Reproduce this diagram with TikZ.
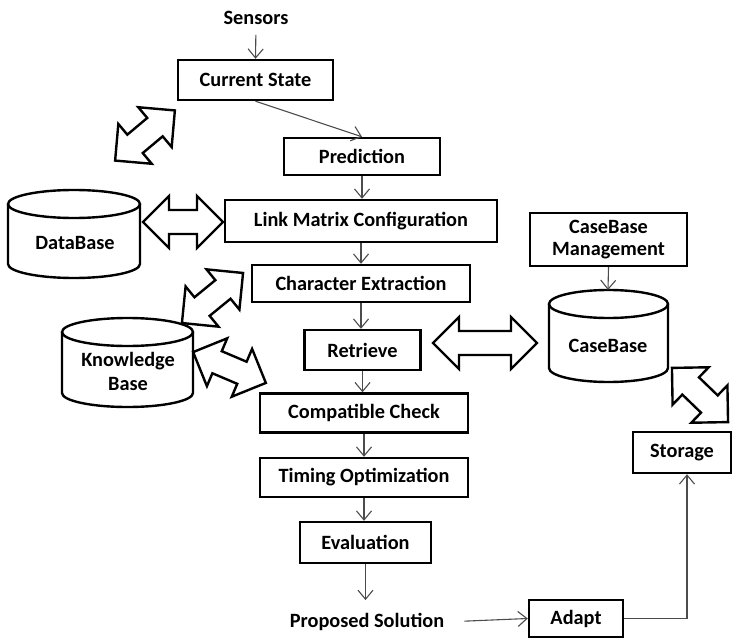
\documentclass[tikz,border=0pt]{standalone}
\usepackage{fontspec}
\setmainfont{Carlito}
\usetikzlibrary{arrows.meta}

\tikzset{
  stepbox/.style={draw=black, line width=2.4pt, fill=white, inner sep=0pt,
    align=center, font=\bfseries\fontsize{20.3}{22}\selectfont},
  label/.style={inner sep=0pt, align=center, font=\bfseries\fontsize{20.3}{24}\selectfont},
  flow/.style={draw=black!70, line width=1.1pt,
    -{Straight Barb[length=9pt, width=15pt, line width=1.1pt]}},
  blockline/.style={draw=black, line width=2.4pt, line join=miter, fill=white},
  cylline/.style={draw=black, line width=2.4pt},
  % double-headed block arrow, #1 = half of its length
  pics/dblarrow/.style={code={
    \path[blockline] (-#1,0) -- (-#1+26,26) -- (-#1+26,12) -- (#1-26,12)
      -- (#1-26,26) -- (#1,0) -- (#1-26,-26) -- (#1-26,-12)
      -- (-#1+26,-12) -- (-#1+26,-26) -- cycle;}},
}

% cylinder outline: centre x, top y, bottom y, x radius, y radius
\newcommand{\drumshape}[5]{%
  \path[cylline] (#1-#4,#2+#5) -- (#1-#4,#3-#5)
    arc[start angle=180, end angle=0, x radius=#4, y radius=#5]
    -- (#1+#4,#2+#5);
  \path[cylline] (#1,#2+#5) ellipse[x radius=#4, y radius=#5];
}

\begin{document}
\begin{tikzpicture}[x=1pt, y=-1pt]
\useasboundingbox (0,0) rectangle (733,639);

% storage drums
\drumshape{74}{190}{278}{66}{14}
\drumshape{127.5}{318}{407}{65.5}{14}
\drumshape{608.5}{290}{382}{59.5}{14}
\node[label] (db) at (75,243) {DataBase};
\node[label] (kb) at (128,371) {Knowledge\\Base};
\node[label] (cb) at (608,346) {CaseBase};

% processing chain
\node[label] (sens) at (256,18) {Sensors};
\node[stepbox, minimum width=155, minimum height=40] (cs)   at (255.5,80)  {Current State};
\node[stepbox, minimum width=156, minimum height=37] (pred) at (362,156.5) {Prediction};
\node[stepbox, minimum width=272, minimum height=42] (lmc)  at (361,221)   {Link Matrix Configuration};
\node[stepbox, minimum width=218, minimum height=37] (ce)   at (361,283.5) {Character Extraction};
\node[stepbox, minimum width=116, minimum height=40] (ret)  at (362.5,350) {Retrieve};
\node[stepbox, minimum width=208, minimum height=39] (cc)   at (364,413)   {Compatible Check};
\node[stepbox, minimum width=208, minimum height=39] (to)   at (364,477.5) {Timing Optimization};
\node[stepbox, minimum width=131, minimum height=41] (ev)   at (365.5,542.5) {Evaluation};
\node[label] (ps) at (367,622) {Proposed Solution};
\node[stepbox, minimum width=94, minimum height=37] (ad)   at (576,618.5) {Adapt};
\node[stepbox, minimum width=98, minimum height=41] (st)   at (682,452.5) {Storage};
\node[stepbox, minimum width=157, minimum height=53] (cbm)  at (608.5,239.5) {CaseBase\\Management};

% thin connectors
\draw[flow, shorten <=10pt] (sens.south) -- (cs.north);
\draw[flow] (cs.south) -- (pred.north);
\draw[flow] (pred.south) -- (pred.south |- lmc.north);
\draw[flow] (lmc.south) -- (lmc.south |- ce.north);
\draw[flow] (ce.south) -- (ce.south |- ret.north);
\draw[flow] (ret.south) -- (ret.south |- cc.north);
\draw[flow] (cc.south) -- (cc.south |- to.north);
\draw[flow] (to.south) -- (to.south |- ev.north);
\draw[flow, shorten >=13pt] (ev.south) -- (ev.south |- ps.north);
\draw[flow, shorten <=20pt] (ps.east) -- (ad.west);
\draw[flow] (ad.east) -| ([xshift=5pt]st.south);
\draw[flow] (cbm.south) -- (608,290);

% block arrows between stores and steps
\pic at (183,222) {dblarrow=40};
\pic at (485,343) {dblarrow=52};
\pic[rotate=40] at (145,135.5) {dblarrow=39};
\pic[rotate=39.3] at (212.5,298) {dblarrow=39.5};
\pic[rotate=-23] at (229.5,367.5) {dblarrow=39.5};
\pic[rotate=-44] at (700,395) {dblarrow=39};
\end{tikzpicture}
\end{document}
